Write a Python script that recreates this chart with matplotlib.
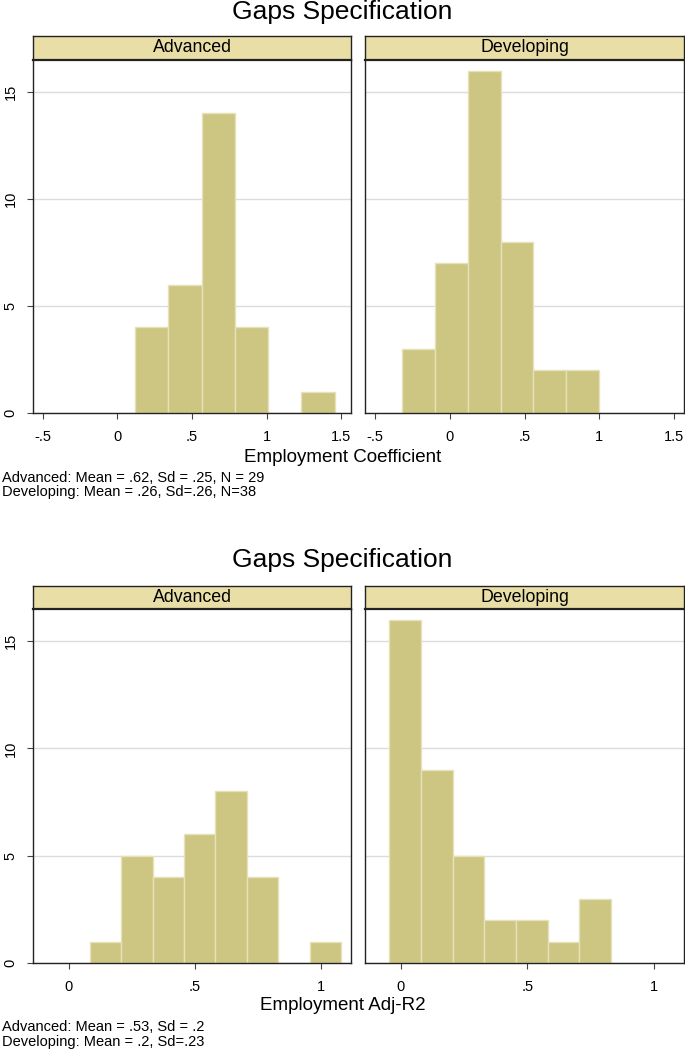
import matplotlib
matplotlib.use("Agg")
import matplotlib.pyplot as plt

plt.rcParams['font.family'] = ['Liberation Sans', 'DejaVu Sans']

# data
coef_adv_edges = [0.12, 0.3425, 0.565, 0.7875, 1.01, 1.2325, 1.455]
coef_adv_counts = [4, 6, 14, 4, 0, 1]
coef_dev_edges = [-0.32, -0.10, 0.12, 0.34, 0.56, 0.78, 1.00]
coef_dev_counts = [3, 7, 16, 8, 2, 2]

r2_adv_edges = [0.084, 0.2085, 0.333, 0.4575, 0.582, 0.7065, 0.831, 0.9555, 1.08]
r2_adv_counts = [1, 5, 4, 6, 8, 4, 0, 1]
r2_dev_edges = [-0.046, 0.079, 0.205, 0.33, 0.456, 0.581, 0.706, 0.832]
r2_dev_counts = [16, 9, 5, 2, 2, 1, 3]

groups = ["Advanced", "Developing"]
coef_ticks = [-0.5, 0, 0.5, 1, 1.5]
coef_ticklabels = ["-.5", "0", ".5", "1", "1.5"]
r2_ticks = [0, 0.5, 1]
r2_ticklabels = ["0", ".5", "1"]
y_ticks = [0, 5, 10, 15]

title = "Gaps Specification"
coef_notes = ["Advanced: Mean = .62, Sd = .25, N = 29",
              "Developing: Mean = .26, Sd=.26, N=38"]
r2_notes = ["Advanced: Mean = .53, Sd = .2",
            "Developing: Mean = .2, Sd=.23"]

bar_color = "#cdc582"
bar_edge = "#e6e2b8"
strip_color = "#e8dea6"
spine_color = "#222222"

W, H = 685, 1050
fig = plt.figure(figsize=(W / 100, H / 100), dpi=100)


def px_axes(x0, y0, x1, y1):
    # pixel box (top-left origin) -> figure axes
    return fig.add_axes([x0 / W, 1 - y1 / H, (x1 - x0) / W, (y1 - y0) / H])


def panel(box, strip_top, edges, counts, label, xlim, ticks, ticklabels, show_y):
    x0, y0, x1, y1 = box
    ax = px_axes(x0, y0, x1, y1)
    widths = [edges[i + 1] - edges[i] for i in range(len(counts))]
    ax.bar(edges[:-1], counts, width=widths, align='edge',
           color=bar_color, edgecolor=bar_edge, linewidth=1.0, zorder=2)
    ax.set_xlim(*xlim)
    ax.set_ylim(0, 16.5)
    ax.set_yticks(y_ticks)
    ax.yaxis.grid(True, color="#dcdcdc", linewidth=1.0, zorder=0)
    ax.set_axisbelow(True)
    ax.set_xticks(ticks)
    ax.set_xticklabels(ticklabels)
    ax.tick_params(axis='x', direction='out', length=4, width=0.8,
                   color="#444444", pad=8, labelsize=10.5)
    if show_y:
        ax.tick_params(axis='y', direction='out', length=4, width=0.8,
                       color="#444444", pad=7, labelsize=10.5)
        for t in ax.get_yticklabels():
            t.set_rotation(90)
            t.set_va('center')
    else:
        ax.tick_params(axis='y', length=0, labelleft=False)
    for s in ax.spines.values():
        s.set_color(spine_color)
        s.set_linewidth(1.0)
    ax.spines['top'].set_visible(False)

    st = px_axes(x0, strip_top, x1, y0)
    st.set_facecolor(strip_color)
    st.set_xticks([])
    st.set_yticks([])
    for s in st.spines.values():
        s.set_color(spine_color)
        s.set_linewidth(1.0)
    st.spines['bottom'].set_linewidth(1.6)
    st.text(0.5, 0.5, label, ha='center', va='center', fontsize=12.8,
            transform=st.transAxes)
    return ax


# top block: employment coefficient
coef_lim = (-0.565, 1.565)
panel((33, 60, 351, 413), 36, coef_adv_edges, coef_adv_counts, groups[0],
      coef_lim, coef_ticks, coef_ticklabels, True)
panel((365, 60, 684, 413), 36, coef_dev_edges, coef_dev_counts, groups[1],
      coef_lim, coef_ticks, coef_ticklabels, False)
fig.text(0.5, 1 - 12 / H, title, ha='center', va='center', fontsize=19)
fig.text(0.5, 1 - 457 / H, "Employment Coefficient", ha='center', va='center',
         fontsize=13.5)
fig.text(2 / W, 1 - 478 / H, coef_notes[0], ha='left', va='center', fontsize=10.5)
fig.text(2 / W, 1 - 492 / H, coef_notes[1], ha='left', va='center', fontsize=10.5)

# bottom block: adjusted R2
r2_lim = (-0.142, 1.12)
panel((33, 609, 351, 963), 586, r2_adv_edges, r2_adv_counts, groups[0],
      r2_lim, r2_ticks, r2_ticklabels, True)
panel((365, 609, 684, 963), 586, r2_dev_edges, r2_dev_counts, groups[1],
      r2_lim, r2_ticks, r2_ticklabels, False)
fig.text(0.5, 1 - 560 / H, title, ha='center', va='center', fontsize=19)
fig.text(0.5, 1 - 1006 / H, "Employment Adj-R2", ha='center', va='center',
         fontsize=13.5)
fig.text(2 / W, 1 - 1027 / H, r2_notes[0], ha='left', va='center', fontsize=10.5)
fig.text(2 / W, 1 - 1042 / H, r2_notes[1], ha='left', va='center', fontsize=10.5)

fig.savefig("out.png", dpi=100)
